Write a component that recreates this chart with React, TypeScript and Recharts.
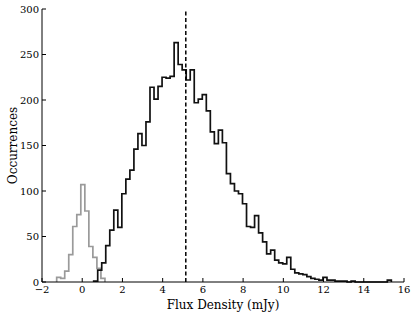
import React from 'react';
import { ComposedChart, Line, XAxis, YAxis, ReferenceLine, Label } from 'recharts';

// Histogram bin configuration (numpy-style: start edge + constant width)
const binWidth = 0.2;
const grayBinStart = -1.27;
const blackBinStart = 0.57;

// Counts per bin
const grayCounts = [5, 4, 12, 30, 61, 74, 107, 78, 39, 27, 15, 4];
const blackCounts = [
  1, 13, 21, 40, 57, 79, 60, 97, 113, 123,
  146, 163, 150, 176, 214, 201, 215, 225, 224, 226,
  263, 239, 233, 222, 233, 197, 201, 206, 188, 165,
  152, 167, 153, 119, 108, 100, 97, 86, 61, 60,
  73, 54, 44, 31, 35, 24, 21, 20, 27, 14,
  10, 9, 8, 6, 4, 3, 2, 5, 2, 2,
  1, 1, 1, 0, 1, 0, 0, 0, 0, 0,
  0, 0, 0, 2,
];

const medianFlux = 5.15;
const xTicks = [-2, 0, 2, 4, 6, 8, 10, 12, 14, 16];
const yTicks = [0, 50, 100, 150, 200, 250, 300];

function stepData(start: number, counts: number[]) {
  const pts: { x: number; y: number }[] = [{ x: start, y: 0 }];
  counts.forEach((c, i) => pts.push({ x: +(start + i * binWidth).toFixed(4), y: c }));
  pts.push({ x: +(start + counts.length * binWidth).toFixed(4), y: 0 });
  return pts;
}

const grayData = stepData(grayBinStart, grayCounts);
const blackData = stepData(blackBinStart, blackCounts);

const FONT = '"DejaVu Serif", serif';
const fmt = (v: number) => String(v).replace('-', '\u2212');

export default function App() {
  return (
    <div style={{ position: 'absolute', left: 0, top: 0, background: '#fff' }}>
      <ComposedChart width={416} height={313} margin={{ top: 9, right: 12, left: 0, bottom: 0 }}>
        <XAxis
          dataKey="x"
          type="number"
          domain={[-2, 16]}
          ticks={xTicks}
          allowDuplicatedCategory={false}
          height={31}
          tickSize={-4}
          tickMargin={8}
          interval={0}
          tickFormatter={fmt}
          axisLine={{ stroke: '#000', strokeWidth: 1 }}
          tickLine={{ stroke: '#000', strokeWidth: 1 }}
          tick={{ fill: '#000', fontSize: 10, fontFamily: FONT }}
        >
          <Label
            value="Flux Density (mJy)"
            position="insideBottom"
            offset={4}
            style={{ fill: '#000', fontSize: 12, fontFamily: FONT, textAnchor: 'middle' }}
          />
        </XAxis>
        <XAxis
          xAxisId="top"
          orientation="top"
          type="number"
          domain={[-2, 16]}
          ticks={xTicks}
          height={0}
          tickSize={-4}
          tick={false}
          interval={0}
          axisLine={{ stroke: '#000', strokeWidth: 1 }}
          tickLine={{ stroke: '#000', strokeWidth: 1 }}
        />
        <YAxis
          type="number"
          domain={[0, 300]}
          ticks={yTicks}
          width={42}
          tickSize={-4}
          tickMargin={7}
          interval={0}
          axisLine={{ stroke: '#000', strokeWidth: 1 }}
          tickLine={{ stroke: '#000', strokeWidth: 1 }}
          tick={{ fill: '#000', fontSize: 10, fontFamily: FONT }}
        >
          <Label
            value="Occurrences"
            angle={-90}
            position="insideLeft"
            offset={13}
            style={{ fill: '#000', fontSize: 12, fontFamily: FONT, textAnchor: 'middle' }}
          />
        </YAxis>
        <YAxis
          yAxisId="right"
          orientation="right"
          type="number"
          domain={[0, 300]}
          ticks={yTicks}
          width={0}
          tickSize={-4}
          tick={false}
          interval={0}
          axisLine={{ stroke: '#000', strokeWidth: 1 }}
          tickLine={{ stroke: '#000', strokeWidth: 1 }}
        />
        <Line
          data={grayData}
          dataKey="y"
          type="stepAfter"
          stroke="#9a9a9a"
          strokeWidth={1.7}
          dot={false}
          activeDot={false}
          isAnimationActive={false}
        />
        <Line
          data={blackData}
          dataKey="y"
          type="stepAfter"
          stroke="#111"
          strokeWidth={1.7}
          dot={false}
          activeDot={false}
          isAnimationActive={false}
        />
        <ReferenceLine x={medianFlux} stroke="#000" strokeWidth={1.5} strokeDasharray="4 2.5" />
      </ComposedChart>
    </div>
  );
}
